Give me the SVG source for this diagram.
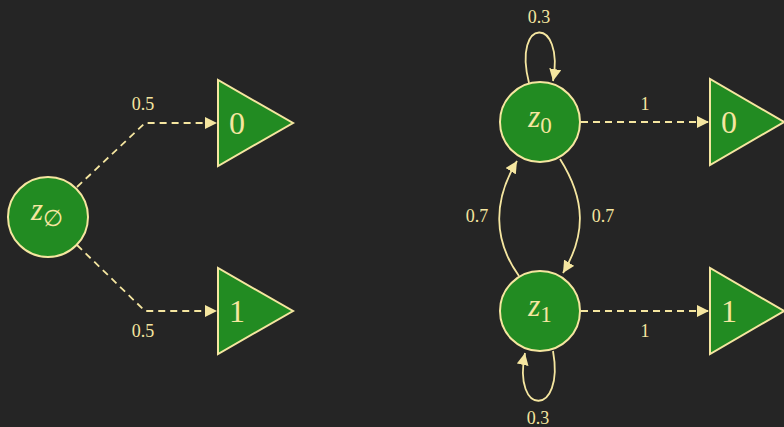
<svg xmlns="http://www.w3.org/2000/svg" width="784" height="427" viewBox="0 0 784 427">
<style>
.bg{fill:#252525}
.node circle,.node polygon{fill:#228b22;stroke:#f5e6a0;stroke-width:2}
.lbl{fill:#f5e6a0;font-family:"Liberation Serif",serif;text-anchor:middle}
.nl{font-size:31px;font-style:italic}
.sub{font-size:23px;font-style:normal}
.tl{font-size:32px}
.el{font-size:18px}
.edge{fill:none;stroke:#f5e6a0;stroke-width:1.8}
.dash{stroke-dasharray:7 5}
</style>
<defs>
<marker id="arr" markerUnits="userSpaceOnUse" markerWidth="12" markerHeight="12" refX="10" refY="5" viewBox="0 0 10 10" orient="auto">
<path d="M0,0 L10,5 L0,10 z" fill="#f5e6a0"/>
</marker>
</defs>
<rect class="bg" x="0" y="0" width="784" height="427"/>
<g id="connectors">
<path class="edge dash" d="M77,187 L145,123 L217,123" marker-end="url(#arr)"/>
<path class="edge dash" d="M77,245 L145,311 L217,311" marker-end="url(#arr)"/>
<path class="edge dash" d="M581,122 L709,122" marker-end="url(#arr)"/>
<path class="edge dash" d="M581,311 L709,311" marker-end="url(#arr)"/>
<path class="edge" d="M529,83 C512,16 565,16 553,81" marker-end="url(#arr)"/>
<path class="edge" d="M553,351 C565,417 512,417 525,353" marker-end="url(#arr)"/>
<path class="edge" d="M560,159 C586,200 586,235 563,273" marker-end="url(#arr)"/>
<path class="edge" d="M519,276 C493,240 493,200 517,161" marker-end="url(#arr)"/>
<text class="lbl el" x="143" y="110">0.5</text>
<text class="lbl el" x="143" y="337">0.5</text>
<text class="lbl el" x="645" y="110">1</text>
<text class="lbl el" x="645" y="337">1</text>
<text class="lbl el" x="539" y="23">0.3</text>
<text class="lbl el" x="538" y="424">0.3</text>
<text class="lbl el" x="477" y="222">0.7</text>
<text class="lbl el" x="603" y="222">0.7</text>
</g>
<g id="z_empty" class="node">
<circle cx="48" cy="217" r="40"/>
<text class="lbl nl" x="47" y="220"><tspan>z</tspan><tspan class="sub" dy="6" font-family="'DejaVu Serif',serif" font-size="21px">∅</tspan></text>
</g>
<g id="out0_left" class="node">
<polygon points="218,80 218,166 293,123"/>
<text class="lbl tl" x="237" y="134">0</text>
</g>
<g id="out1_left" class="node">
<polygon points="218,268 218,354 293,311"/>
<text class="lbl tl" x="237" y="322">1</text>
</g>
<g id="z0" class="node">
<circle cx="540" cy="122" r="40"/>
<text class="lbl nl" x="540" y="127"><tspan>z</tspan><tspan class="sub" dy="6">0</tspan></text>
</g>
<g id="z1" class="node">
<circle cx="540" cy="311" r="40"/>
<text class="lbl nl" x="540" y="316"><tspan>z</tspan><tspan class="sub" dy="6">1</tspan></text>
</g>
<g id="out0_right" class="node">
<polygon points="710,79 710,165 784,122"/>
<text class="lbl tl" x="729" y="133">0</text>
</g>
<g id="out1_right" class="node">
<polygon points="710,268 710,354 784,311"/>
<text class="lbl tl" x="729" y="322">1</text>
</g>
</svg>
